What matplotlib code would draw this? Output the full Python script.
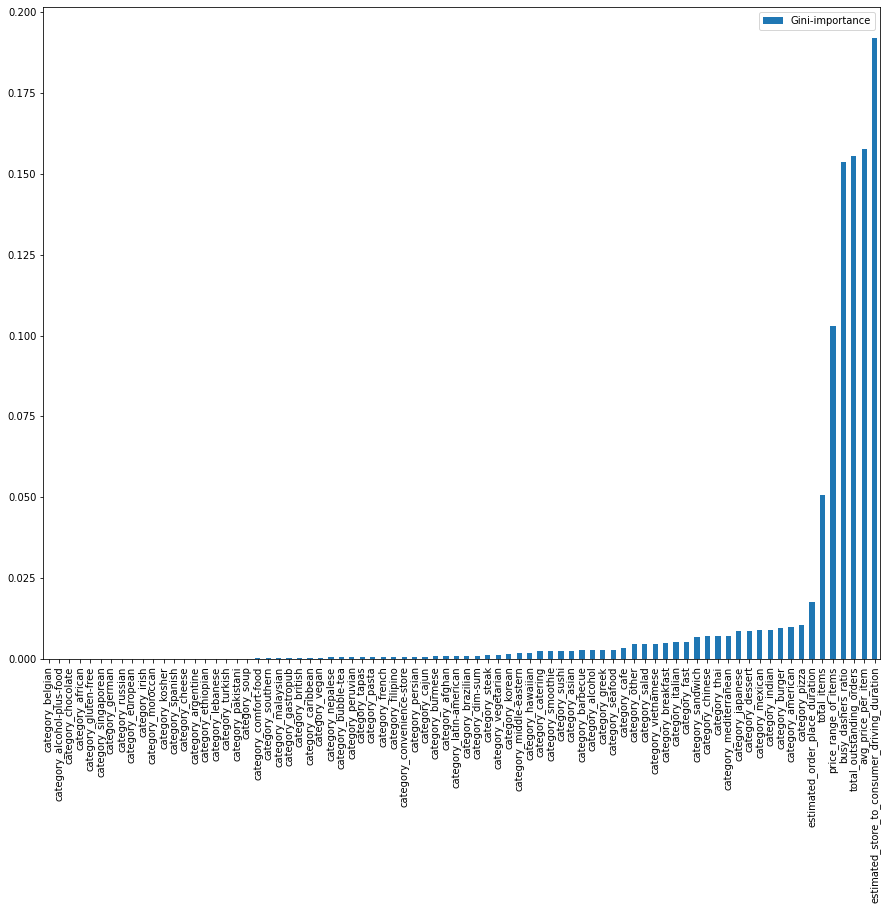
import numpy as np
import matplotlib
matplotlib.use("Agg")
import matplotlib.pyplot as plt

# feature names, sorted by importance (ascending)
cuisines = ["belgian", "alcohol-plus-food", "chocolate", "african", "gluten-free",
            "singaporean", "german", "russian", "european", "irish", "moroccan",
            "kosher", "spanish", "cheese", "argentine", "ethiopian", "lebanese",
            "turkish", "pakistani", "soup", "comfort-food", "southern", "malaysian",
            "gastropub", "british", "caribbean", "vegan", "nepalese", "bubble-tea",
            "peruvian", "tapas", "pasta", "french", "filipino", "convenience-store",
            "persian", "cajun", "burmese", "afghan", "latin-american", "brazilian",
            "dim-sum", "steak", "vegetarian", "korean", "middle-eastern", "hawaiian",
            "catering", "smoothie", "sushi", "asian", "barbecue", "alcohol", "greek",
            "seafood", "cafe", "other", "salad", "vietnamese", "breakfast", "italian",
            "fast", "sandwich", "chinese", "thai", "mediterranean", "japanese",
            "dessert", "mexican", "indian", "burger", "american", "pizza"]
other_features = ["estimated_order_place_duration", "total_items",
                  "price_range_of_items", "busy_dashers_ratio",
                  "total_outstanding_orders", "avg_price_per_item",
                  "estimated_store_to_consumer_driving_duration"]
features = ["category_" + c for c in cuisines] + other_features

# Gini importances
cuisine_imp = [0.0, 0.0, 0.00001, 0.00001, 0.00002, 0.00002, 0.00003, 0.00004,
               0.00005, 0.00006, 0.00007, 0.00008, 0.00009, 0.0001, 0.00011,
               0.00012, 0.00013, 0.00015, 0.00017, 0.00019,
               0.0003, 0.0003, 0.00031, 0.00032, 0.00033, 0.00034, 0.00035,
               0.0006, 0.00062, 0.00063, 0.00064, 0.00065, 0.00066, 0.00067,
               0.00068, 0.0007, 0.00072,
               0.0009, 0.0009, 0.00092, 0.00093, 0.00095, 0.0012, 0.00122,
               0.0015, 0.0019, 0.0019, 0.0025, 0.0025, 0.0025, 0.0025,
               0.0028, 0.0028, 0.0029, 0.0029, 0.0035, 0.0047, 0.0047, 0.0047,
               0.0050, 0.0053, 0.0053, 0.0069, 0.0072, 0.0072, 0.0072,
               0.0087, 0.0087, 0.0090, 0.0090, 0.0097, 0.0100, 0.0106]
other_imp = [0.0177, 0.0509, 0.1028, 0.1536, 0.1554, 0.1575, 0.1918]
importance = cuisine_imp + other_imp

W, H, DPI = 887, 910, 72
fig = plt.figure(figsize=(W / DPI, H / DPI), dpi=DPI)
ax = fig.add_axes([43.3 / W, 1 - 659.3 / H, 836.7 / W, 652 / H])

x = np.arange(len(features))
ax.bar(x, importance, width=0.5, color="#1f77b4", label="Gini-importance")
ax.set_xlim(-0.5, len(features) - 0.5)
ax.set_ylim(0, max(importance) * 1.05)
ax.set_xticks(x)
ax.set_xticklabels(features, rotation=90)
ax.legend(loc="upper right")

fig.savefig("out.png", dpi=DPI)
